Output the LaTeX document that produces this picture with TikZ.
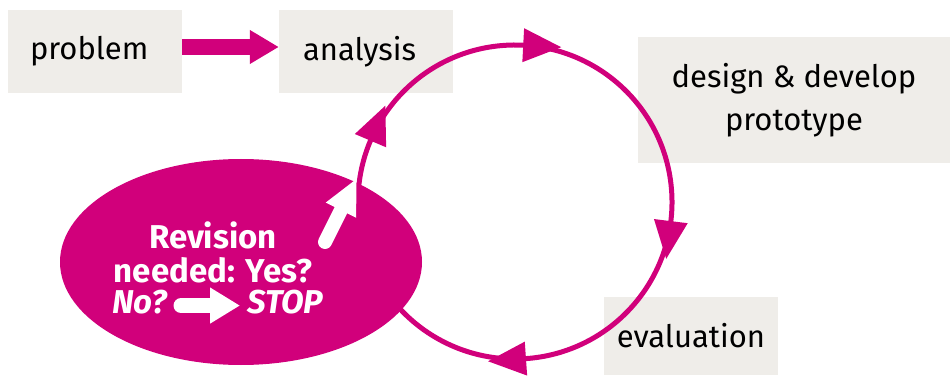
\documentclass[tikz,border=0pt]{standalone}
\usepackage{fontspec}
\setmainfont{Fira Sans}
\usetikzlibrary{arrows.meta,shapes.geometric}
\definecolor{berry}{RGB}{209,0,123}
\definecolor{paper}{RGB}{239,237,233}

\begin{document}
\begin{tikzpicture}[x=1pt,y=1pt,
    box/.style={fill=paper, inner sep=0pt, font=\fontsize{31}{43}\selectfont},
    ring/.style={draw=berry, line width=5pt},
    fatarrow/.style={line width=16pt, -{Triangle[length=29pt,width=32pt]}},
    whitearrow/.style={white, line width=15pt, line cap=round, -{Triangle[length=30pt,width=34pt]}},
    says/.style={white, inner sep=0pt, font=\fontsize{33}{34}\selectfont\bfseries}]
  \useasboundingbox (0,0) rectangle (950,375);

  % Grey boxes
  \node[box, minimum width=174pt, minimum height=83pt, text width=130pt, align=left] (problem) at (95,323.5) {problem};
  \node[box, minimum width=174pt, minimum height=83pt, text width=126pt, align=left] (analysis) at (366,323.5) {analysis};
  \node[box, minimum width=312pt, minimum height=126pt, align=center] (design) at (794,275) {design \& develop\\prototype};
  \node[box, minimum width=174pt, minimum height=78pt, align=center] (evaluation) at (691,39) {evaluation};

  % Problem leads to analysis
  \draw[berry, fatarrow] ([yshift=4.5pt]problem.east) -- ([yshift=4.5pt]analysis.west);

  % The cycle
  \coordinate (hub) at (515,173);
  \draw[ring] (hub) ++(185:157) arc[start angle=185, end angle=-150, radius=157];
  % Arrow heads on the cycle (base angle on the circle)
  \foreach \a in {157,87,-7,-86} {
    \begin{scope}[shift={(hub)}, rotate=\a]
      \fill[berry] (140,0) -- (174,0) -- (157,-38) -- cycle;
    \end{scope}
  }

  % Decision
  \node[ellipse, fill=berry, inner sep=0pt, minimum width=362pt, minimum height=206pt] (decide) at (241,113) {};
  \node[says, align=center] (ask) at (213,123) {Revision\\needed: Yes?};
  \node[says, anchor=base east] (no) at (167,62) {\itshape No?};
  \node[says, anchor=base west] (stop) at (247,62) {\itshape STOP};
  \draw[whitearrow, shorten <=14pt, shorten >=7pt] ([yshift=-4pt]no.east) -- ([yshift=-4pt]stop.west);

  % Yes goes back into the cycle
  \coordinate (yesfrom) at (325,133);
  \coordinate (yesto) at (357,197);
  \draw[whitearrow, line width=14pt, -{Triangle[length=36pt,width=31pt]}] (yesfrom) -- (yesto);
\end{tikzpicture}
\end{document}
